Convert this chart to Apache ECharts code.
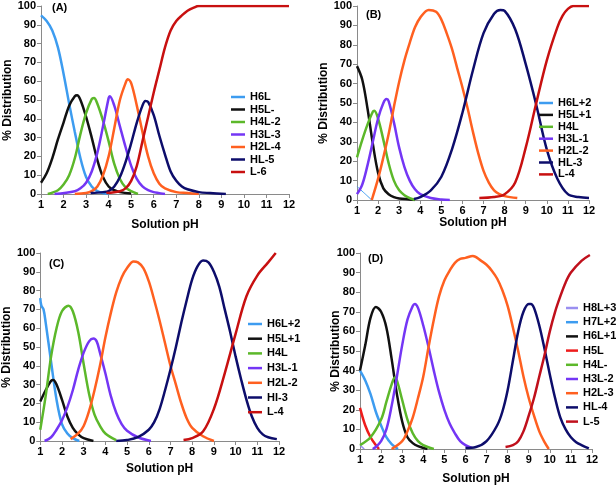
<!DOCTYPE html>
<html>
<head>
<meta charset="utf-8">
<script src="https://cdn.jsdelivr.net/npm/echarts@6/dist/echarts.min.js"></script>
<style>
  html, body { margin: 0; padding: 0; background: #fff; }
  #chart { width: 616px; height: 486px; }
</style>
</head>
<body>
<div id="chart"></div>
<script>
// pH ticks shared by all panels
const PH_TICKS = [1, 2, 3, 4, 5, 6, 7, 8, 9, 10, 11, 12];

// ---- panel (A) ----
const A_NAMES = ['H6L', 'H5L-', 'H4L-2', 'H3L-3', 'H2L-4', 'HL-5', 'L-6'];
const A_H6L = [[1,95],[1.25,92],[1.5,87],[1.75,78],[2,64],[2.25,48],[2.5,33],[2.75,19],[3,9],[3.25,4],[3.5,1.5],[3.75,0.5],[4,0]];
const A_H5L = [[1,6],[1.25,11],[1.5,19],[1.75,29],[2,38],[2.25,47],[2.5,52],[2.6,52.5],[2.75,50],[3,41],[3.25,30],[3.5,18],[3.75,9],[4,4],[4.25,2],[4.5,1],[5,0.3]];
const A_H4L = [[1.3,0],[1.75,2],[2,5],[2.25,10],[2.5,19],[2.75,32],[3,43],[3.25,50.5],[3.35,51],[3.5,48],[3.75,39],[4,28],[4.25,16],[4.5,8],[4.75,3.5],[5,1.5],[5.3,0]];
const A_H3L = [[1.6,0],[2.5,1.5],[2.75,3],[3,6],[3.25,12],[3.5,22],[3.75,36],[4,51],[4.05,52],[4.25,47],[4.5,36],[4.75,25],[5,15],[5.25,8],[5.5,4],[5.75,2],[6,1],[6.5,0]];
const A_H2L = [[2.5,0],[3,0.5],[3.25,1.5],[3.5,4],[3.75,10],[4,20],[4.25,35],[4.5,50],[4.75,59],[4.85,61],[5,59],[5.25,47],[5.5,33],[5.75,20],[6,11],[6.25,5.5],[6.5,3],[7,1],[7.5,0.5],[8,0]];
const A_HL = [[3.2,0.5],[3.75,1],[4,1.5],[4.25,4],[4.5,9],[4.75,17],[5,27],[5.25,38],[5.5,47],[5.63,49.5],[5.75,49],[6,42],[6.25,31],[6.5,21],[6.75,12],[7,7],[7.25,4],[7.5,2.5],[8,1],[8.5,0.5],[9.2,0]];
const A_L = [[3.9,0.5],[4.5,1.5],[4.75,3],[5,7],[5.25,15],[5.5,28],[5.75,41],[6,54],[6.25,66],[6.5,78],[6.75,87],[7,92],[7.25,95],[7.5,97.5],[7.75,99],[8,100],[12,100]];

// ---- panel (B) ----
const B_NAMES = ['H6L+2', 'H5L+1', 'H4L', 'H3L-1', 'H2L-2', 'HL-3', 'L-4'];
const B_H6L = [[1,7],[1.35,3.5],[1.7,0]];
const B_H5L = [[1,69],[1.25,62],[1.5,47],[1.75,29],[2,14],[2.25,6],[2.5,3],[2.75,1.5],[3,0.8],[3.5,0.3],[3.75,0]];
const B_H4L = [[1,22],[1.25,31],[1.5,39],[1.75,45.5],[1.82,46],[2,42],[2.25,31],[2.5,19],[2.75,10],[3,5],[3.25,2.5],[3.5,1],[3.75,0]];
const B_H3L = [[1,3],[1.25,8],[1.5,18],[1.75,30],[2,42],[2.25,50],[2.4,52],[2.5,51],[2.75,40],[3,27],[3.25,17],[3.5,10],[3.75,5.5],[4,3],[4.5,1],[5,0.3],[5.4,0]];
const B_H2L = [[1.7,0],[2,11],[2.25,22],[2.5,34],[2.75,48],[3,61],[3.25,72],[3.5,81],[3.75,89],[4,94],[4.4,98],[4.75,97],[5,93],[5.25,86],[5.5,78],[5.75,68],[6,58],[6.25,47],[6.5,35],[6.75,24],[7,15],[7.25,9],[7.5,5],[7.75,3],[8,2],[8.6,1]];
const B_HL = [[3.7,0.5],[4,1.5],[4.5,5],[5,12],[5.5,26],[6,45],[6.5,67],[7,86],[7.5,96],[7.8,98],[8,97.5],[8.5,88],[9,70],[9.5,49],[10,26],[10.5,11],[11,3],[11.5,1.5],[12,1]];
const B_L = [[6.8,1],[7.5,1.5],[8,3],[8.5,9],[9,27],[9.5,50],[10,72],[10.5,89],[10.75,95],[11,98.5],[11.25,100],[12,100]];

// ---- panel (C) ----
const C_NAMES = ['H6L+2', 'H5L+1', 'H4L', 'H3L-1', 'H2L-2', 'HI-3', 'L-4'];
const C_H6L = [[1,76],[1.05,72],[1.15,70],[1.25,63],[1.5,42],[1.75,22],[2,9],[2.25,4],[2.5,1.5],[2.8,0]];
const C_H5L = [[1,21],[1.25,27],[1.5,32],[1.6,32.5],[1.75,30],[2,22],[2.25,13],[2.5,7],[2.75,3.5],[3,1.5],[3.45,0]];
const C_H4L = [[1,6],[1.25,24],[1.5,45],[1.75,60],[2,69],[2.3,72],[2.5,69],[2.75,58],[3,41],[3.25,25],[3.5,14],[3.75,8],[4,4],[4.5,0.5]];
const C_H3L = [[1.2,0],[1.5,2],[1.75,6],[2,11],[2.25,18],[2.5,27],[2.75,38],[3,47],[3.25,53],[3.45,54.5],[3.6,53],[3.75,47],[4,36],[4.25,24],[4.5,15],[4.75,9],[5,5.5],[5.5,2],[6.1,0]];
const C_H2L = [[2.4,1],[2.75,4],[3,8],[3.25,16],[3.5,27],[3.75,40],[4,55],[4.25,68],[4.5,79],[4.75,87],[5,92],[5.3,95.5],[5.5,95],[5.75,92],[6,85],[6.25,75],[6.5,64],[6.75,52],[7,40],[7.25,30],[7.5,20],[7.75,12],[8,7],[8.5,2.5],[9,0]];
const C_HL = [[4.5,0],[5,0.5],[5.5,2],[6,6],[6.25,10],[6.5,17],[6.75,27],[7,38],[7.25,50],[7.5,63],[7.75,75],[8,86],[8.25,93],[8.5,96],[8.75,95],[9,90],[9.25,82],[9.5,70],[9.75,58],[10,45],[10.25,33],[10.5,22],[10.75,13],[11,7],[11.25,3.5],[11.5,2],[11.9,1]];
const C_L = [[7.6,0.5],[8,1.5],[8.5,5],[9,17],[9.5,36],[10,57],[10.5,77],[11,88],[11.5,95],[11.85,100]];

// ---- panel (D) ----
const D_NAMES = ['H8L+3', 'H7L+2', 'H6L+1', 'H5L', 'H4L-', 'H3L-2', 'H2L-3', 'HL-4', 'L-5'];
const D_H8L = [[1,2],[1.2,0]];
const D_H7L = [[1,40],[1.25,35],[1.5,28],[1.75,19],[2,12],[2.25,6],[2.5,2.5],[2.8,0]];
const D_H6L = [[1,40],[1.25,53],[1.5,67],[1.75,72.5],[2,70],[2.25,62],[2.5,46],[2.75,28],[3,14],[3.25,6],[3.5,3],[3.75,1.5],[4.2,0]];
const D_H5L = [[1,21],[1.25,12],[1.5,6],[1.75,2],[1.9,0]];
const D_H4L = [[1,2],[1.5,6],[2,15],[2.25,24],[2.5,33],[2.65,36.5],[2.75,35],[3,25],[3.25,15],[3.5,8],[3.75,4],[4,2],[4.5,0]];
const D_H3L = [[1.6,0],[1.75,1],[2,4],[2.25,10],[2.5,22],[2.75,37],[3,53],[3.25,66],[3.5,73],[3.6,74],[3.75,72],[4,63],[4.25,52],[4.5,40],[4.75,29],[5,20],[5.25,13],[5.5,8],[5.75,4],[6,2],[6.3,0.5]];
const D_H2L = [[2.5,0],[3,4],[3.25,9],[3.5,16],[3.75,26],[4,37],[4.25,52],[4.5,66],[4.75,78],[5,86],[5.25,91],[5.5,95],[5.75,97],[6,97.5],[6.35,98.5],[6.75,96],[7,94],[7.25,91],[7.5,87],[7.75,81],[8,73],[8.25,62],[8.5,50],[8.75,37],[9,26],[9.25,17],[9.5,9],[9.75,3.5],[9.95,0]];
const D_HL = [[6,0.5],[6.5,1],[7,4],[7.5,12],[7.75,19],[8,30],[8.25,45],[8.5,60],[8.75,70],[9,74],[9.1,74],[9.25,72],[9.5,63],[9.75,51],[10,38],[10.25,26],[10.5,16],[10.75,10],[11,6],[11.25,3.5],[11.5,2],[11.85,0.3]];
const D_L = [[7.9,1],[8.25,2],[8.5,4],[8.75,9],[9,17],[9.25,26],[9.5,37],[9.75,48],[10,60],[10.25,70],[10.5,78],[10.75,85],[11,90],[11.5,96],[11.9,99]];

const BLUE = '#3d9cf0', BLACK = '#111111', GREEN = '#5cb82a', PURPLE = '#7436f5',
	ORANGE = '#ff6020', NAVY = '#0d0d6b', RED = '#c81010';
const FONT = 'Liberation Sans, Arial, sans-serif';

function line(name, data, color, grid, width) {
	return {
		type: 'line', name, data, xAxisIndex: grid, yAxisIndex: grid,
		smooth: 0.35, symbol: 'none', animation: false,
		lineStyle: { color, width: width || 2.5 }, itemStyle: { color }
	};
}

function xAxis(grid, gap) {
	return {
		type: 'value', gridIndex: grid, min: 1, max: 12, interval: 1,
		name: 'Solution pH', nameLocation: 'middle', nameGap: gap,
		nameTextStyle: { fontFamily: FONT, fontWeight: 'bold', fontSize: 12, color: '#000' },
		axisLine: { lineStyle: { color: '#8a8a8a' } },
		axisTick: { length: 4, lineStyle: { color: '#8a8a8a' } },
		axisLabel: { fontFamily: FONT, fontWeight: 'bold', fontSize: 11, color: '#000', margin: 5,
			formatter: v => PH_TICKS.includes(v) ? String(v) : '' },
		splitLine: { show: false }
	};
}

function yAxis(grid, gap, noMove) {
	let axis = {
		type: 'value', gridIndex: grid, min: 0, max: 100, interval: 10,
		name: '% Distribution', nameLocation: 'middle', nameGap: gap,
		nameTextStyle: { fontFamily: FONT, fontWeight: 'bold', fontSize: 12, color: '#000' },
		axisLine: { show: true, lineStyle: { color: '#8a8a8a' } },
		axisTick: { show: true, length: 4, lineStyle: { color: '#8a8a8a' } },
		axisLabel: { fontFamily: FONT, fontWeight: 'bold', fontSize: 11, color: '#000', margin: 5 },
		splitLine: { show: false }
	};
	if (noMove) axis.nameMoveOverlap = false;
	return axis;
}

function legend(names, left, top, gap, width) {
	return {
		data: names, orient: 'vertical', left, top, itemGap: gap,
		icon: 'rect', itemWidth: width || 14, itemHeight: 2.5, padding: 0,
		textStyle: { fontFamily: FONT, fontWeight: 'bold', fontSize: 11, color: '#000' }
	};
}

function label(text, left, top) {
	return { text, left, top, padding: 0,
		textStyle: { fontFamily: FONT, fontWeight: 'bold', fontSize: 11, color: '#000' } };
}

let chart = echarts.init(document.getElementById('chart'));

chart.setOption({
	backgroundColor: '#fff',
	title: [label('(A)', 52, 2), label('(B)', 366, 9), label('(C)', 49, 258), label('(D)', 368, 253)],
	grid: [
		{ left: 41, top: 6, width: 248, height: 188 },
		{ left: 357, top: 6, width: 232, height: 194 },
		{ left: 40, top: 253, width: 239, height: 188 },
		{ left: 360, top: 253, width: 232, height: 198 }
	],
	xAxis: [xAxis(0, 25), xAxis(1, 13), xAxis(2, 22), xAxis(3, 24)],
	yAxis: [yAxis(0, 27), yAxis(1, 26), yAxis(2, 26), yAxis(3, 18, true)],
	legend: [
		legend(A_NAMES, 231, 91.5, 1.5),
		legend(B_NAMES, 539, 97.5, 0.9),
		legend(C_NAMES, 248, 318.5, 3.7),
		legend(D_NAMES, 566, 302.5, 3.2, 12)
	],
	series: [
		line('H6L', A_H6L, BLUE, 0), line('H5L-', A_H5L, BLACK, 0), line('H4L-2', A_H4L, GREEN, 0),
		line('H3L-3', A_H3L, PURPLE, 0), line('H2L-4', A_H2L, ORANGE, 0), line('HL-5', A_HL, NAVY, 0),
		line('L-6', A_L, RED, 0),

		line('H6L+2', B_H6L, BLUE, 1, 1), line('H5L+1', B_H5L, BLACK, 1), line('H4L', B_H4L, GREEN, 1),
		line('H3L-1', B_H3L, PURPLE, 1), line('H2L-2', B_H2L, ORANGE, 1), line('HL-3', B_HL, NAVY, 1),
		line('L-4', B_L, RED, 1),

		line('H6L+2', C_H6L, BLUE, 2), line('H5L+1', C_H5L, BLACK, 2), line('H4L', C_H4L, GREEN, 2),
		line('H3L-1', C_H3L, PURPLE, 2), line('H2L-2', C_H2L, ORANGE, 2), line('HI-3', C_HL, NAVY, 2),
		line('L-4', C_L, RED, 2),

		line('H8L+3', D_H8L, '#9a8ff0', 3, 1.5), line('H7L+2', D_H7L, BLUE, 3), line('H6L+1', D_H6L, BLACK, 3),
		line('H5L', D_H5L, '#ee1c1c', 3), line('H4L-', D_H4L, GREEN, 3), line('H3L-2', D_H3L, PURPLE, 3),
		line('H2L-3', D_H2L, ORANGE, 3), line('HL-4', D_HL, NAVY, 3), line('L-5', D_L, '#c0101c', 3)
	]
});
</script>
</body>
</html>
